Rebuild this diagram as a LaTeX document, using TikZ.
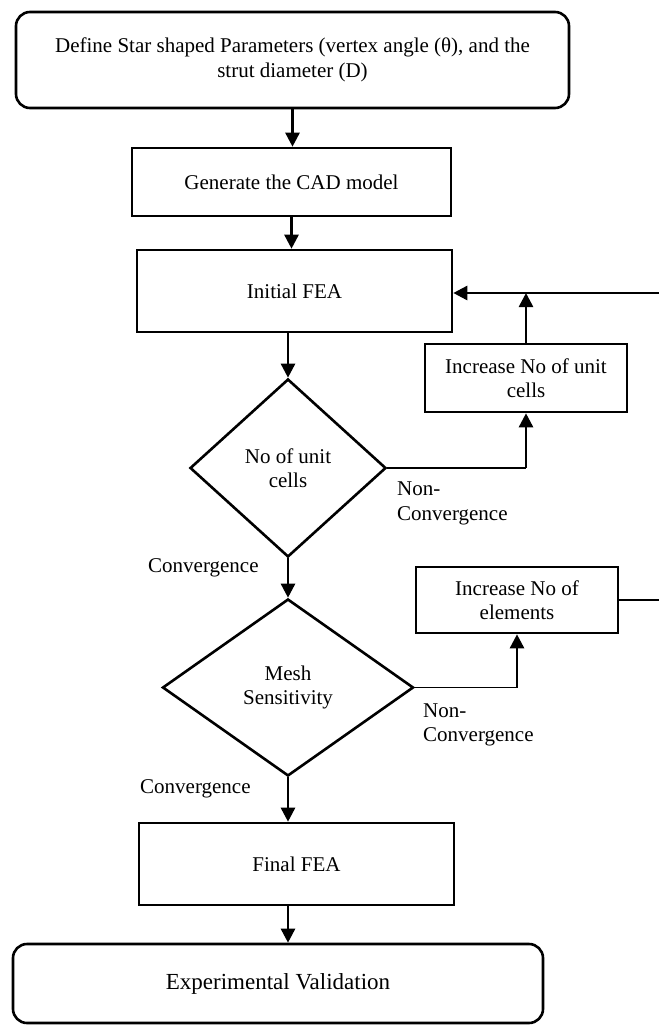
\documentclass[tikz,border=0pt]{standalone}
\usepackage{fontspec}
\setmainfont{Liberation Serif}
\usetikzlibrary{shapes.geometric}
\usetikzlibrary{arrows.meta}
\usetikzlibrary{positioning}

\begin{document}
\begin{tikzpicture}[x=1pt,y=-1pt,font=\fontsize{21}{24.5}\selectfont,
  box/.style={draw,line width=2.6pt,rectangle,inner sep=0pt,align=center},
  rbox/.style={box,rounded corners=14pt},
  dia/.style={draw,line width=2.6pt,diamond,inner sep=0pt,align=center},
  lbl/.style={inner sep=0pt,align=left,anchor=west},
  arr/.style={line width=2.6pt,-{Triangle[length=14pt,width=14pt]}},
  thin/.style={line width=1.3pt}]
\useasboundingbox (0,0) rectangle (659,1025);
  \node[rbox,minimum width=553pt,minimum height=96pt] (def) at (292.5,60) {Define Star shaped Parameters (vertex angle (θ), and the\\strut diameter (D)};
  \node[box,minimum width=319pt,minimum height=68pt] (cad) at (291.5,182) {Generate the CAD model};
  \node[box,minimum width=315pt,minimum height=82pt] (ini) at (294.5,291) {Initial FEA};
  \node[dia,minimum width=196pt,minimum height=178pt] (cells) at (288,468) {No of unit\\cells};
  \node[box,minimum width=202pt,minimum height=68pt] (inc1) at (526,378) {Increase No of unit\\cells};
  \node[dia,minimum width=251pt,minimum height=177pt] (mesh) at (288,687.5) {Mesh\\Sensitivity};
  \node[box,minimum width=202pt,minimum height=66pt] (inc2) at (517,600) {Increase No of\\elements};
  \node[box,minimum width=315pt,minimum height=82pt] (fin) at (296.5,864) {Final FEA};
  \node[rbox,minimum width=530pt,minimum height=79pt,font=\fontsize{23}{27}\selectfont] (exp) at (278,983.5) {Experimental Validation};

  \node[lbl] (nc1) at (397,503.5) {Non-\\Convergence};
  \node[lbl] (nc2) at (423,725) {Non-\\Convergence};
  \node[lbl] (c1) at (148,568) {Convergence};
  \node[lbl] (c2) at (140,789) {Convergence};

  \coordinate (j1) at (535,293);
  \coordinate (e1) at (659,293);
  \coordinate (e2) at (659,600);

  \draw[arr] (def) -- (def |- cad.north);
  \draw[arr] (cad) -- (cad |- ini.north);
  \draw[arr] (cells |- ini.south) -- (cells);
  \draw[arr] (cells) -- (mesh);
  \draw[arr] (mesh) -- (mesh |- fin.north);
  \draw[arr] (mesh |- fin.south) -- (mesh |- exp.north);

  \draw[thin] (cells.east) -- (cells.east -| inc1);
  \draw[arr] (cells.east -| inc1) -- (inc1);
  \draw[arr] (inc1) -- (inc1 |- j1);
  \draw[arr] (j1) -- (ini.east |- j1);
  \draw[thin] (j1) -- (e1);
  \draw[thin] (mesh.east) -- (mesh.east -| inc2);
  \draw[arr] (mesh.east -| inc2) -- (inc2);
  \draw[thin] (inc2) -- (e2);
\end{tikzpicture}
\end{document}
